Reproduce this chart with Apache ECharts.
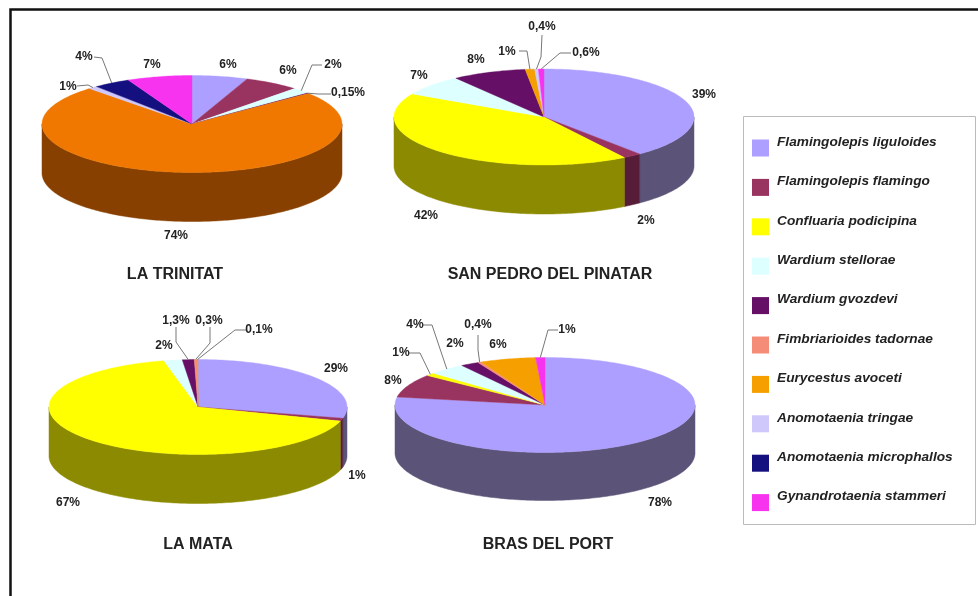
<!DOCTYPE html>
<html>
<head>
<meta charset="utf-8">
<style>html,body{margin:0;padding:0;background:#fff}#c{width:978px;height:596px}</style>
<script src="https://cdn.jsdelivr.net/npm/echarts@6/dist/echarts.min.js"></script>
</head>
<body>
<div id="c"></div>
<script>
// Sites, in the order used by every value array
const sites = ['LA TRINITAT', 'SAN PEDRO DEL PINATAR', 'LA MATA', 'BRAS DEL PORT'];
const speciesNames = ['Flamingolepis liguloides','Flamingolepis flamingo','Confluaria podicipina','Wardium stellorae','Wardium gvozdevi','Fimbriarioides tadornae','Eurycestus avoceti','Anomotaenia tringae','Anomotaenia microphallos','Gynandrotaenia stammeri'];
// Percentages per species, one per site
const liguloides    = [6, 39, 29, 78];
const flamingo      = [6, 2, 1, 8];
const podicipina    = [0, 42, 67, 1];
const stellorae     = [2, 7, 2, 4];
const gvozdevi      = [0.15, 8, 1.3, 2];
const tadornae      = [0, 0, 0.3, 0.4];
const avoceti       = [74, 1, 0.1, 6];
const tringae       = [1, 0.4, 0, 0];
const microphallos  = [4, 0, 0, 0];
const stammeri      = [7, 0.6, 0, 1];
const values = [liguloides, flamingo, podicipina, stellorae, gvozdevi, tadornae, avoceti, tringae, microphallos, stammeri];

// Styles
const topColors  = ['#AD9FFF','#99335F','#FFFF00','#DDFFFF','#660F66','#F58C78','#F5A000','#CFC8FA','#14107F','#F733F0'];
const wallColors = ['#5C5478','#561C38','#8C8A00','#7C8C8C','#3A083A','#88503F','#884000','#777488','#0B0946','#881C86'];
const topOverride = {'0,6':'#F07800'};   // La Trinitat's orange is deeper than the legend's

// Layout of the four discs: centre x, centre y, rx, ry, depth
const discs = [[192,124,150,48.5,49],[544,117,150,48,49],[198,407,149,47.5,49],[545,405,150,47.5,48]];
const titleSpots = [[175,275],[550,275],[198,545],[548,545]];
// Manually placed labels: site -> species -> [x, y, leaderStart?, leaderElbow?]
const labelSpots = [
 {0:[228,65],1:[288,71],3:[333,65,[322,65],[312,65]],4:[348,93,[331,94],[318,94]],6:[176,236],7:[68,87,[77,86],[88,85]],8:[84,57,[94,57],[102,58]],9:[152,65]},
 {0:[704,95],1:[646,221],2:[426,216],3:[419,76],4:[476,60],6:[507,52,[519,51],[527,51]],7:[542,27,[542,35],[541,57]],9:[586,53,[571,53],[560,53]]},
 {0:[336,369],1:[357,476],2:[68,503],3:[164,346],4:[176,321,[176,327],[176,342]],5:[209,321,[210,327],[210,343]],6:[259,330,[246,330],[235,330]]},
 {0:[660,503],1:[393,381],2:[401,353,[408,353],[420,353]],3:[415,325,[423,325],[432,325]],4:[455,344],5:[478,325,[478,335],[478,350]],6:[498,345],9:[567,330,[558,330],[548,330]]}
];

const labelText = v => String(v).replace('.', ',') + '%';
const rim = (d, t, drop) => [d[0] + d[2] * Math.sin(t), d[1] - d[3] * Math.cos(t) + (drop || 0)];

function sliceAngles(site, sp) {
  let total = 0, before = 0;
  values.forEach((arr, i) => { total += arr[site]; if (i < sp) before += arr[site]; });
  const k = 2 * Math.PI / total;
  return [before * k, (before + values[sp][site]) * k];
}

function arcPoints(d, a, b, drop) {
  const n = Math.max(2, Math.ceil((b - a) / 0.02));
  const pts = [];
  for (let i = 0; i <= n; i++) pts.push(rim(d, a + (b - a) * i / n, drop));
  return pts;
}

function renderSlice(params, api) {
  const sp = params.seriesIndex, site = api.value(0), v = api.value(1);
  if (!v) return {type: 'group', children: []};
  const d = discs[site], [a, b] = sliceAngles(site, sp), kids = [];
  const lo = Math.max(a, Math.PI / 2), hi = Math.min(b, Math.PI * 1.5);
  if (hi > lo) {
    const up = arcPoints(d, lo, hi, 0), down = arcPoints(d, lo, hi, d[4]).reverse();
    kids.push({type: 'polygon', shape: {points: up.concat(down)}, style: {fill: wallColors[sp], stroke: wallColors[sp], lineWidth: 0.5}});
  }
  const fill = topOverride[site + ',' + sp] || topColors[sp];
  kids.push({type: 'polygon', shape: {points: [[d[0], d[1]]].concat(arcPoints(d, a, b, 0))}, style: {fill: fill, stroke: fill, lineWidth: 0.4}, z2: 2});
  const spot = labelSpots[site][sp];
  if (spot) {
    if (spot[2]) {
      kids.push({type: 'polyline', shape: {points: [spot[2], spot[3], rim(d, (a + b) / 2)]}, style: {fill: 'none', stroke: '#777', lineWidth: 1}, z2: 5});
    }
    kids.push({type: 'text', style: {text: labelText(v), x: spot[0], y: spot[1], fill: '#222', font: 'bold 12px "Liberation Sans", Arial, sans-serif', textAlign: 'center', textVerticalAlign: 'middle'}, z2: 6});
  }
  return {type: 'group', children: kids};
}

const legendFont = {fontFamily: '"Liberation Sans", Arial, sans-serif', fontStyle: 'italic', fontWeight: 'bold', fontSize: 13.7, color: '#222'};
const chart = echarts.init(document.getElementById('c'), null, {renderer: 'canvas'});
chart.setOption({
  animation: false,
  backgroundColor: '#fff',
  title: sites.map((s, i) => ({
    text: s, left: titleSpots[i][0], top: titleSpots[i][1] - 8, textAlign: 'center', padding: 0,
    textStyle: {fontFamily: '"Liberation Sans", Arial, sans-serif', fontWeight: 'bold', fontSize: 16, color: '#222'}
  })),
  legend: {
    orient: 'vertical', left: 752, top: 135, padding: 0, itemWidth: 17, itemHeight: 17, itemGap: 17.9,
    icon: 'rect', selectedMode: false, data: speciesNames,
    formatter: '{t|{name}}',
    textStyle: Object.assign({}, legendFont, {rich: {t: Object.assign({}, legendFont, {padding: [0, 0, 12, 3]})}})
  },
  graphic: [
    {type: 'rect', silent: true, shape: {x: 743.5, y: 116.5, width: 232, height: 408}, style: {fill: 'none', stroke: '#bbb', lineWidth: 1}},
    {type: 'polyline', silent: true, shape: {points: [[10.5, 600], [10.5, 9.5], [980, 9.5]]}, style: {fill: 'none', stroke: '#111', lineWidth: 2.5}}
  ],
  series: speciesNames.map((name, sp) => ({
    type: 'custom', name: name, coordinateSystem: 'none', silent: true,
    itemStyle: {color: topColors[sp]},
    renderItem: renderSlice,
    data: values[sp].map((v, site) => [site, v])
  }))
});
</script>
</body>
</html>
